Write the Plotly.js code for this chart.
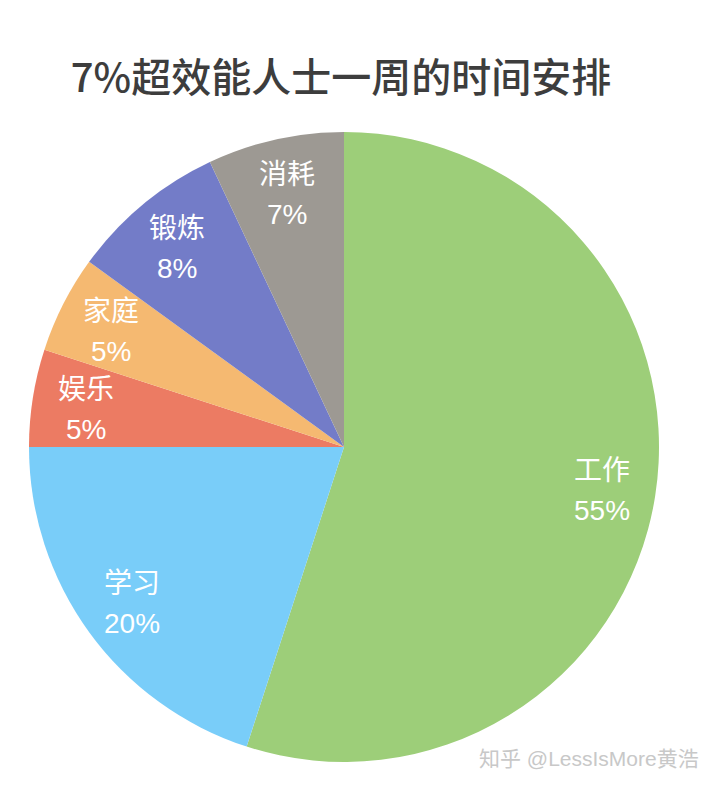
<!DOCTYPE html>
<html>
<head>
<meta charset="utf-8">
<script src="https://cdn.plot.ly/plotly-3.0.1.min.js"></script>
<style>html,body{margin:0;padding:0;background:#fff;}#chart{width:716px;height:788px;}</style>
</head>
<body>
<div id="chart"></div>
<script>
const categories = ['工作', '学习', '娱乐', '家庭', '锻炼', '消耗'];
const values = [55, 20, 5, 5, 8, 7];
const colors = ['#9dce79', '#79cdf9', '#ec7b63', '#f5b971', '#737cc8', '#9d9993'];
const titleText = '7%超效能人士一周的时间安排';
const watermark = '知乎 @LessIsMore黄浩';

const W = 716, H = 788;
const cx = 344, cy = 447, R = 315;
const dom = {x: [(cx - R) / W, (cx + R) / W], y: [1 - (cy + R) / H, 1 - (cy - R) / H]};

const font = 'Helvetica, "Liberation Sans", Arial, "Noto Sans CJK SC", sans-serif';
const titleFont = '"Noto Sans CJK SC", "Noto Sans", sans-serif';

// label positions derived from the data (mid-angle of each slice, clockwise from 12 o'clock)
const total = values.reduce((a, b) => a + b, 0);
const annotations = [];
let cum = 0;
values.forEach((v, i) => {
  const mid = (cum + v / 2) / total * 2 * Math.PI;
  cum += v;
  const rl = 0.83 * R;
  const px = cx + rl * Math.sin(mid);
  const py = cy - rl * Math.cos(mid);
  const pct = Math.round(v / total * 100) + '%';
  annotations.push({x: px / W, y: 1 - py / H, xref: 'paper', yref: 'paper', xanchor: 'center', yanchor: 'middle',
    text: categories[i], showarrow: false, yshift: 17, font: {family: font, size: 28, color: '#ffffff'}});
  annotations.push({x: px / W, y: 1 - py / H, xref: 'paper', yref: 'paper', xanchor: 'center', yanchor: 'middle',
    text: pct, showarrow: false, yshift: -23, font: {family: font, size: 28, color: '#ffffff'}});
});
annotations.push({x: 701 / W, y: 1 - 758 / H, xref: 'paper', yref: 'paper', xanchor: 'right', yanchor: 'middle',
  text: watermark, showarrow: false, font: {family: font, size: 21, color: '#c8c8c8'}});

const trace = {
  type: 'pie',
  labels: categories,
  values: values,
  sort: false,
  direction: 'clockwise',
  rotation: 0,
  marker: {colors: colors, line: {width: 0}},
  textinfo: 'none',
  hoverinfo: 'none',
  domain: dom,
  showlegend: false
};

const layout = {
  width: W, height: H,
  margin: {l: 0, r: 0, t: 0, b: 0},
  paper_bgcolor: '#ffffff',
  title: {text: titleText, x: 341 / W, xanchor: 'center', y: 1 - 78 / H, yanchor: 'middle',
    font: {family: titleFont, size: 40, color: '#3d3d3d', weight: 500}},
  annotations: annotations,
  showlegend: false
};

Plotly.newPlot('chart', [trace], layout, {displayModeBar: false, staticPlot: true});
</script>
</body>
</html>
